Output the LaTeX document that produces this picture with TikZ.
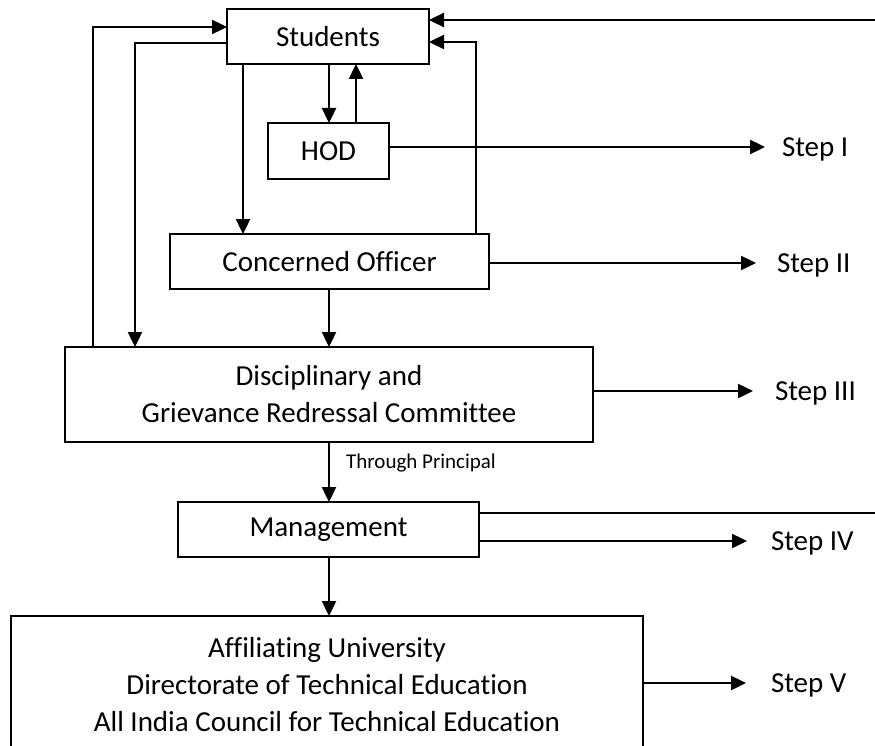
\documentclass[tikz,border=0pt]{standalone}
\usepackage{fontspec}
\setmainfont{Carlito}[Ligatures=NoCommon]
\usetikzlibrary{arrows.meta}
\tikzset{
  box/.style={draw, line width=2.2pt, inner sep=0pt, outer sep=0pt, align=center,
    font=\fontsize{29}{37}\selectfont},
  arr/.style={line width=2.4pt, -{Triangle[length=15pt,width=14pt]}},
  plain/.style={line width=2.4pt},
  steplbl/.style={anchor=base west, inner ysep=0pt, outer sep=0pt, font=\fontsize{29}{37}\selectfont},
  smalllbl/.style={anchor=base west, inner sep=0pt, font=\fontsize{21}{25}\selectfont}
}
\begin{document}
\begin{tikzpicture}[x=1pt,y=-1pt]
\useasboundingbox (0,0) rectangle (875,746);
\clip (0,0) rectangle (875,746);
% boxes
\node[box, minimum width=202pt, minimum height=55pt] (Students) at (328,36.5) {Students};
\node[box, minimum width=121pt, minimum height=56pt] (HOD) at (328.5,151) {HOD};
\node[box, minimum width=319pt, minimum height=55pt] (CO) at (329.5,261.5) {Concerned Officer};
\node[box, minimum width=528pt, minimum height=95pt] (Disc) at (329,394.5) {Disciplinary and\\Grievance Redressal Committee};
\node[box, minimum width=301pt, minimum height=55pt] (Mgmt) at (328.5,529.5) {Management};
\node[box, minimum width=632pt, minimum height=138pt] (AU) at (327,685) {Affiliating University\\Directorate of Technical Education\\All India Council for Technical Education};
% step labels
\node[steplbl, inner xsep=17pt] (s1) at (765,156.5) {Step I};
\node[steplbl, inner xsep=21pt] (s2) at (756,272.5) {Step II};
\node[steplbl, inner xsep=22pt] (s3) at (753,400.5) {Step III};
\node[steplbl, inner xsep=24pt] (s4) at (747,550.5) {Step IV};
\node[steplbl, inner xsep=25pt] (s5) at (746,692.5) {Step V};
\node[smalllbl] (tp) at (346,468) {Through Principal};
% helper coordinates
\coordinate (c329) at (329,0);
\coordinate (c356) at (356,0);
\coordinate (c243) at (243,0);
\coordinate (l1) at (93,27);
\coordinate (l2) at (135,43);
\coordinate (r3) at (476,42);
\coordinate (r1) at (875,20);
\coordinate (r2) at (875,513);
% connectors
\draw[arr] (c329 |- Students.south) -- (c329 |- HOD.north);
\draw[arr] (c356 |- HOD.north) -- (c356 |- Students.south);
\draw[arr] (c243 |- Students.south) -- (c243 |- CO.north);
\draw[arr] (l1 |- Disc.north) -- (l1) -- (l1 -| Students.west);
\draw[arr] (l2 -| Students.west) -- (l2) -- (l2 |- Disc.north);
\draw[arr] (r3 |- CO.north) -- (r3) -- (r3 -| Students.east);
\draw[arr] (r1) -- (r1 -| Students.east);
\draw[arr] (c329 |- CO.south) -- (c329 |- Disc.north);
\draw[arr] (c329 |- Disc.south) -- (c329 |- Mgmt.north);
\draw[arr] (c329 |- Mgmt.south) -- (c329 |- AU.north);
\draw[plain] (Mgmt.east |- r2) -- (r2);
% step arrows
\draw[arr] (HOD.east |- 0,147) -- (s1.west |- 0,147);
\draw[arr] (CO.east |- 0,263) -- (s2.west |- 0,263);
\draw[arr] (Disc.east |- 0,391) -- (s3.west |- 0,391);
\draw[arr] (Mgmt.east |- 0,541) -- (s4.west |- 0,541);
\draw[arr] (AU.east |- 0,683) -- (s5.west |- 0,683);
\end{tikzpicture}
\end{document}
